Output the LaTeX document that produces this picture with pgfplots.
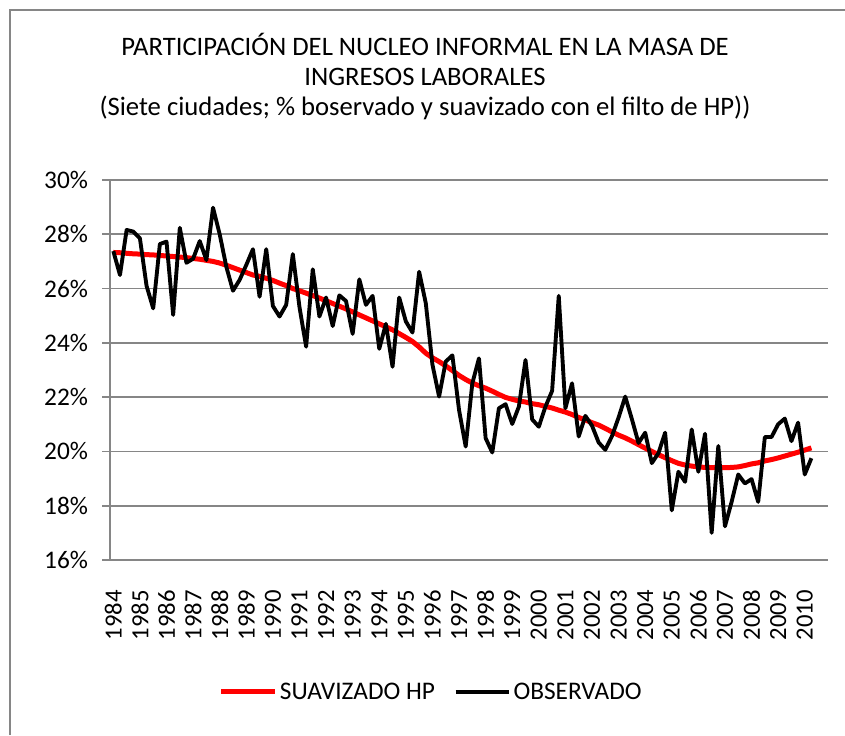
\documentclass[border=0pt]{standalone}
\usepackage{pgfplots}
\pgfplotsset{compat=1.18}
\usepackage{pgfplotstable}
\usepackage{fontspec}
\setmainfont{Carlito}
\definecolor{axgray}{RGB}{134,134,134}
\definecolor{hpred}{RGB}{255,0,0}

\pgfplotstableread{
i obs hp
0 27.38 27.33
1 26.50 27.32
2 28.16 27.30
3 28.10 27.28
4 27.85 27.27
5 26.10 27.25
6 25.27 27.24
7 27.64 27.22
8 27.73 27.20
9 25.03 27.18
10 28.24 27.16
11 26.95 27.14
12 27.10 27.11
13 27.75 27.08
14 27.05 27.04
15 28.98 27.00
16 28.00 26.94
17 26.80 26.86
18 25.92 26.77
19 26.32 26.68
20 26.87 26.59
21 27.45 26.50
22 25.70 26.45
23 27.45 26.38
24 25.36 26.30
25 24.97 26.20
26 25.40 26.11
27 27.27 26.00
28 25.32 25.92
29 23.86 25.83
30 26.71 25.74
31 24.97 25.65
32 25.67 25.55
33 24.62 25.45
34 25.75 25.35
35 25.54 25.25
36 24.33 25.14
37 26.34 25.03
38 25.40 24.92
39 25.73 24.81
40 23.78 24.70
41 24.70 24.59
42 23.12 24.48
43 25.67 24.34
44 24.79 24.20
45 24.38 24.05
46 26.62 23.85
47 25.46 23.62
48 23.20 23.45
49 22.02 23.31
50 23.31 23.15
51 23.54 22.98
52 21.53 22.80
53 20.18 22.65
54 22.51 22.52
55 23.43 22.42
56 20.49 22.33
57 19.96 22.22
58 21.59 22.10
59 21.74 21.99
60 21.01 21.92
61 21.65 21.86
62 23.37 21.82
63 21.18 21.76
64 20.91 21.72
65 21.65 21.66
66 22.23 21.60
67 25.73 21.52
68 21.59 21.45
69 22.51 21.36
70 20.55 21.25
71 21.31 21.16
72 20.95 21.06
73 20.33 20.97
74 20.06 20.85
75 20.56 20.72
76 21.25 20.60
77 22.02 20.50
78 21.19 20.38
79 20.31 20.25
80 20.69 20.12
81 19.57 20.00
82 19.94 19.88
83 20.69 19.77
84 17.83 19.66
85 19.25 19.56
86 18.88 19.50
87 20.81 19.46
88 19.25 19.43
89 20.65 19.41
90 17.00 19.40
91 20.20 19.40
92 17.24 19.40
93 18.14 19.41
94 19.15 19.43
95 18.82 19.48
96 18.98 19.54
97 18.14 19.58
98 20.53 19.65
99 20.53 19.70
100 21.00 19.76
101 21.21 19.83
102 20.38 19.90
103 21.06 19.97
104 19.15 20.05
105 19.75 20.13
}\datatable

\begin{document}
\begin{tikzpicture}
\useasboundingbox (0pt,0pt) rectangle (633.75pt,551.25pt);
\fill[white] (0pt,0pt) rectangle (633.75pt,551.25pt);
\draw[axgray, line width=1pt] (7.5pt,0pt) -- (7.5pt,543.75pt) -- (633.75pt,543.75pt);
\node[align=center, font=\fontsize{20}{22.5}\selectfont] at (318.75pt,493.5pt)
  {PARTICIPACIÓN DEL NUCLEO INFORMAL  EN LA MASA DE\\INGRESOS LABORALES\\(Siete ciudades; \%  boservado y suavizado con el filto de HP))};
\begin{axis}[
  at={(82.5pt,131.25pt)}, anchor=south west,
  scale only axis, width=538.5pt, height=285pt,
  xmin=-0.5, xmax=107.5, ymin=16, ymax=30,
  axis lines=left, axis line style={-, axgray, line width=1.2pt},
  tick align=outside,
  ytick={16,18,...,30},
  yticklabel={\pgfmathprintnumber{\tick}\%},
  ymajorgrids, grid style={axgray, line width=1.2pt},
  major tick style={axgray, line width=1.2pt},
  major tick length=6pt,
  xtick={0,4,...,104},
  xticklabels={1984,1985,1986,1987,1988,1989,1990,1991,1992,1993,1994,1995,1996,1997,1998,1999,2000,2001,2002,2003,2004,2005,2006,2007,2008,2009,2010},
  x tick style={draw=none},
  minor xtick={-0.5,3.5,...,107.5},
  minor tick length=6pt,
  minor tick style={axgray, line width=1.2pt},
  xticklabel style={rotate=90, anchor=east, font=\fontsize{18.5}{20}\selectfont},
  yticklabel style={font=\fontsize{19}{21}\selectfont},
  xticklabel shift=13pt,
  yticklabel shift=7pt,
  /pgf/number format/assume math mode=true,
  clip=false,
  legend style={at={(0.448,-0.347)}, anchor=center, draw=none, fill=none,
    legend columns=2, font=\fontsize{19}{21}\selectfont,
    /tikz/every even column/.append style={column sep=12pt}},
  legend image code/.code={\draw[#1] (0pt,0pt) -- (40pt,0pt);},
]
\addplot[hpred, line width=3.75pt, line join=round] table[x=i, y=hp] {\datatable};
\addlegendentry{SUAVIZADO HP}
\addplot[black, line width=2.9pt, line join=round] table[x=i, y=obs] {\datatable};
\addlegendentry{OBSERVADO}
\end{axis}
\end{tikzpicture}
\end{document}
